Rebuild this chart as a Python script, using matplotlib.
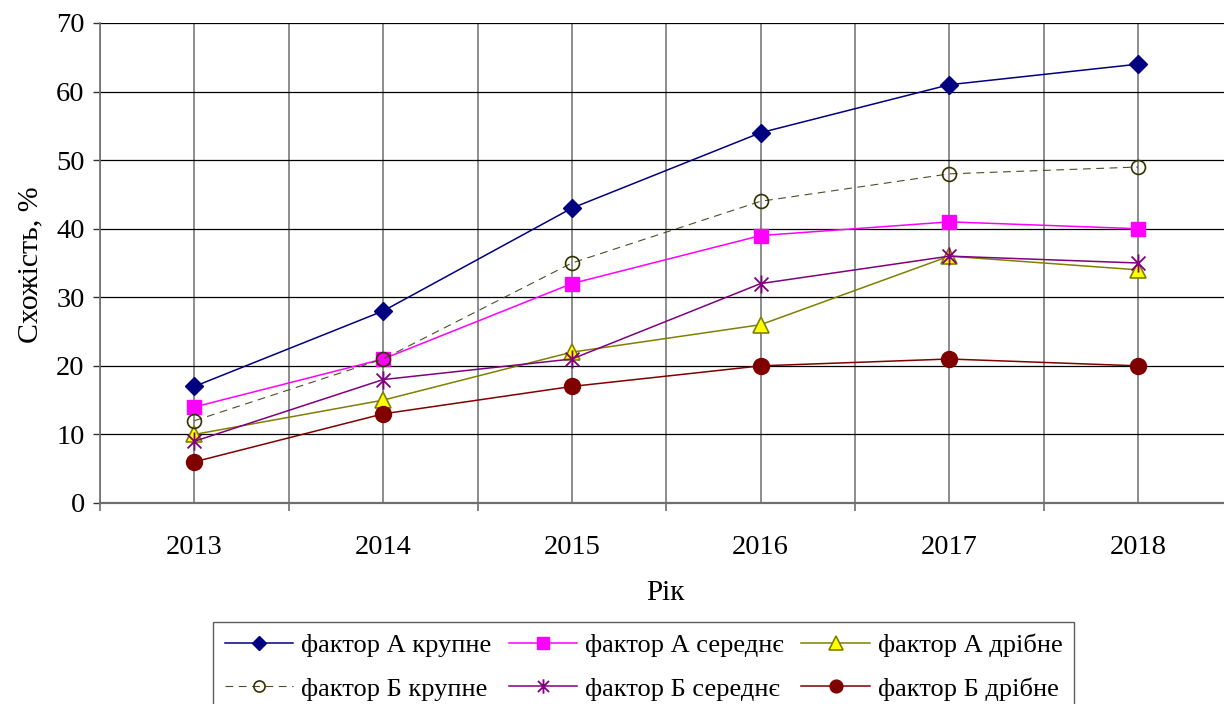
import matplotlib
matplotlib.use('Agg')
import matplotlib.pyplot as plt
from matplotlib.path import Path
from matplotlib.ticker import MultipleLocator

plt.rcParams['font.family'] = ['Liberation Serif', 'DejaVu Serif']

years = ['2013', '2014', '2015', '2016', '2017', '2018']
a_large = [17, 28, 43, 54, 61, 64]
a_medium = [14, 21, 32, 39, 41, 40]
a_small = [10, 15, 22, 26, 36, 34]
b_large = [12, 21, 35, 44, 48, 49]
b_medium = [9, 18, 21, 32, 36, 35]
b_small = [6, 13, 17, 20, 21, 20]

labels = ['фактор А крупне', 'фактор А середнє', 'фактор А дрібне',
          'фактор Б крупне', 'фактор Б середнє', 'фактор Б дрібне']

# asterisk marker like the Excel one: X plus a vertical bar
star = Path([(-1, -1), (1, 1), (-1, 1), (1, -1), (0, -1.3), (0, 1.3)],
            [Path.MOVETO, Path.LINETO, Path.MOVETO, Path.LINETO, Path.MOVETO, Path.LINETO])

fig = plt.figure(figsize=(12.24, 7.04), dpi=100)
ax = fig.add_axes([100 / 1224, 201 / 704, 1132.5 / 1224, 480 / 704])

x = list(range(len(years)))
lw = 1.1
h1, = ax.plot(x, a_large, color='#000080', lw=lw, marker='D', ms=9, mfc='#000080', mec='#000080')
h2, = ax.plot(x, a_medium, color='#FF00FF', lw=lw, marker='s', ms=10, mfc='#FF00FF', mec='#FF00FF')
h3, = ax.plot(x, a_small, color='#808000', lw=lw, marker='^', ms=12, mfc='#FFFF00', mec='#808000', mew=1.2)
h4, = ax.plot(x, b_large, color='#4d4d26', lw=0.8, ls=(0, (7, 5)), marker='o', ms=10, mfc='none', mec='#333300', mew=1.2)
h5, = ax.plot(x, b_medium, color='#800080', lw=lw, marker=star, ms=13, mec='#800080', mew=1.3)
h6, = ax.plot(x, b_small, color='#800000', lw=lw, marker='o', ms=11.5, mfc='#800000', mec='#800000')

ax.set_xlim(-0.5, 5.5)
ax.set_ylim(0, 70)
ax.yaxis.set_major_locator(MultipleLocator(10))
ax.set_xticks(x)
ax.set_xticklabels(years)
ax.set_xticks([i - 0.5 for i in range(len(years) + 1)], minor=True)

ax.grid(True, axis='y', color='#000000', lw=0.9)
ax.grid(True, axis='x', which='both', color='#6e6e6e', lw=1.1)
ax.set_axisbelow(True)

for s in ['top', 'right']:
    ax.spines[s].set_visible(False)
ax.spines['left'].set_color('#6e6e6e')
ax.spines['bottom'].set_color('#6e6e6e')
ax.spines['left'].set_linewidth(1.2)
ax.spines['bottom'].set_linewidth(1.6)

ax.tick_params(axis='y', which='major', length=5, width=1, color='#333333', labelsize=20.5, pad=6)
ax.tick_params(axis='x', which='major', length=0, labelsize=20.5, pad=23)
ax.tick_params(axis='x', which='minor', length=6, width=1.2, color='#6e6e6e')

fig.text(30 / 1224, 1 - 265 / 704, 'Схожість, %', rotation=90, ha='center', va='center', fontsize=21.5)
fig.text(665 / 1224, 1 - 593 / 704, 'Рік', ha='center', va='center', fontsize=21)

# legend filled column by column, so reorder to read row by row like the original
handles = [h1, h4, h2, h5, h3, h6]
order = [0, 3, 1, 4, 2, 5]
leg = fig.legend(handles, [labels[i] for i in order], ncol=3,
                 loc='upper left', bbox_to_anchor=(213 / 1224, 1 - 622 / 704),
                 frameon=True, fancybox=False, edgecolor='#333333', fontsize=19,
                 handlelength=2.6, handletextpad=0.3, columnspacing=0.65,
                 borderpad=0.45, labelspacing=0.75, borderaxespad=0)
leg.get_frame().set_linewidth(1.0)
for lh in leg.legend_handles:
    lh.set_markersize(lh.get_markersize() * 0.8)

fig.savefig('out.png', dpi=100)
